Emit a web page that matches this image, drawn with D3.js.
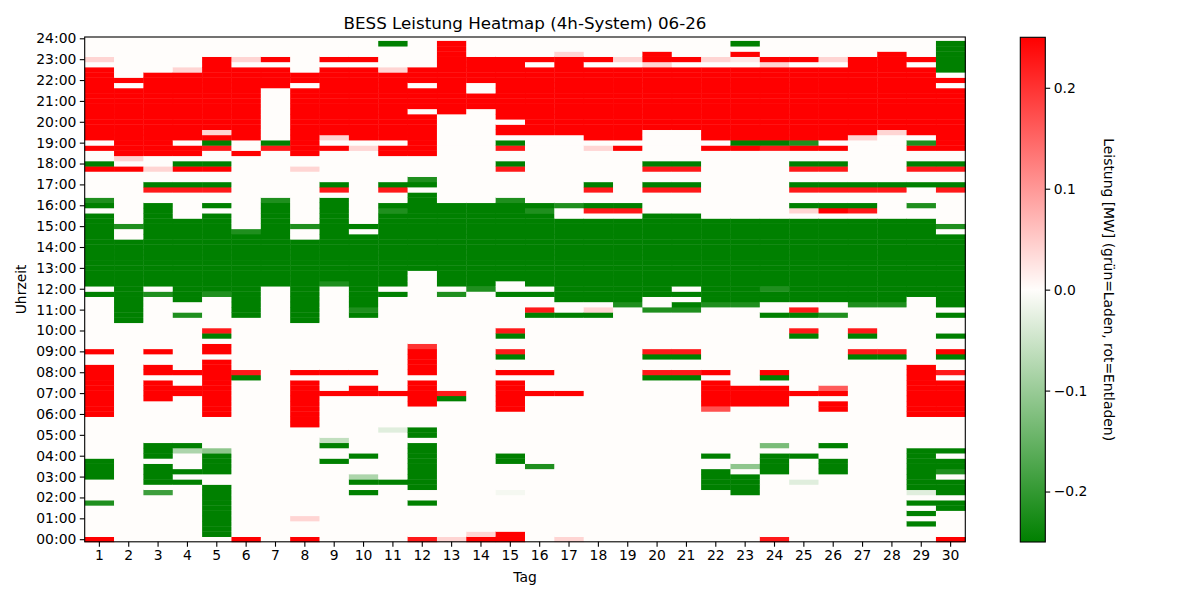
<!DOCTYPE html>
<html>
<head>
<meta charset="utf-8">
<script src="https://cdn.jsdelivr.net/npm/d3@7"></script>
<style>
  body { margin: 0; background: #fff; }
  svg text { font-family: "DejaVu Sans", sans-serif; fill: #000; }
</style>
</head>
<body>
<svg id="chart" width="1200" height="600"></svg>
<script>
// days on the x axis
const days = [1,2,3,4,5,6,7,8,9,10,11,12,13,14,15,16,17,18,19,20,21,22,23,24,25,26,27,28,29,30]

// hour tick labels (every 4 quarter hours)
const hourLabels = ['00:00','01:00','02:00','03:00','04:00','05:00','06:00','07:00','08:00','09:00','10:00','11:00',
  '12:00','13:00','14:00','15:00','16:00','17:00','18:00','19:00','20:00','21:00','22:00','23:00','24:00']

// colorbar ticks
const cbTicks = [-0.2, -0.1, 0.0, 0.1, 0.2]

// power per day as runs of quarter hours: [fromQuarter, toQuarter, MW], everything else 0
const runs = [
  [[0,0,0.25],[7,7,-0.22],[12,15,-0.25],[24,33,0.25],[36,36,0.25],[47,47,-0.25],[49,62,-0.25],[64,64,-0.25],[65,65,-0.22],[71,71,0.25],[72,72,-0.25],[75,75,0.25],[77,90,0.25],[92,92,0.04]],
  [[42,57,-0.25],[60,60,-0.22],[71,71,0.25],[73,73,0.04],[74,86,0.25],[88,88,0.25]],
  [[9,9,-0.19],[11,14,-0.25],[16,18,-0.25],[27,30,0.25],[32,33,0.25],[36,36,0.25],[47,47,-0.22],[49,64,-0.25],[67,67,0.225],[68,68,-0.25],[71,71,0.04],[74,89,0.25]],
  [[11,11,-0.25],[13,13,-0.25],[17,17,-0.08],[18,18,-0.25],[28,29,0.25],[32,32,0.25],[43,43,-0.22],[46,61,-0.25],[67,67,0.225],[68,68,-0.25],[71,71,0.25],[72,72,-0.25],[74,75,0.25],[77,89,0.25],[90,90,0.04]],
  [[1,10,-0.25],[13,16,-0.25],[17,17,-0.11],[24,34,0.25],[36,37,0.25],[39,39,-0.25],[40,40,0.225],[47,47,-0.22],[48,62,-0.25],[64,64,-0.25],[67,67,0.225],[68,68,-0.25],[71,71,0.25],[72,72,-0.25],[75,75,0.225],[76,76,-0.25],[77,77,0.25],[78,78,0.04],[79,92,0.25]],
  [[0,0,0.25],[31,31,-0.25],[32,32,0.225],[43,58,-0.25],[59,59,-0.22],[74,74,0.25],[77,90,0.25],[92,92,0.04]],
  [[49,64,-0.25],[65,65,-0.22],[75,75,0.225],[76,76,-0.25],[87,90,0.25],[92,92,0.25]],
  [[0,0,0.25],[4,4,0.04],[22,30,0.25],[32,32,0.25],[42,57,-0.25],[60,60,-0.22],[71,71,0.04],[74,86,0.25],[88,89,0.25]],
  [[15,15,-0.25],[18,18,-0.25],[19,19,-0.06],[28,28,0.25],[32,32,0.25],[49,49,-0.22],[50,65,-0.25],[67,67,0.225],[68,68,-0.25],[75,75,0.25],[77,77,0.04],[78,90,0.25],[92,92,0.25]],
  [[9,9,-0.25],[11,11,-0.25],[12,12,-0.08],[16,16,-0.25],[28,29,0.25],[32,32,0.25],[43,43,-0.25],[44,44,-0.22],[45,58,-0.25],[60,60,-0.25],[75,75,0.04],[77,90,0.25],[92,92,0.25]],
  [[11,11,-0.25],[21,21,-0.03],[28,28,0.25],[47,47,-0.25],[49,62,-0.25],[63,63,-0.22],[64,64,-0.25],[67,67,0.225],[68,68,-0.25],[74,75,0.25],[77,89,0.25],[90,90,0.04],[95,95,-0.25]],
  [[0,0,0.225],[7,7,-0.25],[10,18,-0.25],[20,21,-0.25],[26,30,0.25],[32,36,0.25],[37,37,0.2],[52,66,-0.25],[68,68,-0.25],[69,69,-0.22],[74,81,0.25],[83,86,0.25],[88,90,0.25]],
  [[0,0,0.04],[27,27,-0.25],[28,28,0.225],[47,47,-0.22],[49,64,-0.25],[82,95,0.25]],
  [[0,0,0.25],[1,1,0.04],[48,48,-0.22],[49,64,-0.25],[83,85,0.25],[88,92,0.25]],
  [[0,1,0.25],[9,9,-0.01],[15,16,-0.25],[25,30,0.25],[32,32,0.25],[35,35,-0.25],[36,36,0.225],[39,39,-0.25],[40,40,0.225],[47,47,-0.25],[50,64,-0.25],[65,65,-0.22],[71,71,0.225],[72,72,-0.25],[75,75,0.225],[76,76,-0.25],[78,79,0.25],[81,92,0.25]],
  [[14,14,-0.22],[28,28,0.25],[32,32,0.25],[43,43,-0.25],[44,44,0.225],[47,47,-0.25],[49,62,-0.25],[63,63,-0.22],[64,64,-0.25],[78,90,0.25],[92,92,0.25]],
  [[0,0,0.04],[28,28,0.25],[43,43,-0.25],[46,61,-0.25],[64,64,-0.22],[78,92,0.25],[93,93,0.04]],
  [[43,43,-0.25],[44,44,0.04],[46,61,-0.25],[63,63,0.225],[64,64,-0.25],[67,67,0.225],[68,68,-0.25],[75,75,0.04],[77,90,0.25],[92,92,0.25]],
  [[45,45,-0.22],[46,61,-0.25],[63,63,0.225],[64,64,-0.25],[75,75,0.25],[77,90,0.25],[92,92,0.04]],
  [[31,31,-0.25],[32,32,0.225],[35,35,-0.25],[36,36,0.225],[44,44,-0.22],[47,62,-0.25],[67,67,0.225],[68,68,-0.25],[71,71,0.225],[72,72,-0.25],[79,90,0.25],[91,91,0.04],[92,93,0.25]],
  [[31,31,-0.25],[32,32,0.225],[35,35,-0.25],[36,36,0.225],[44,44,-0.22],[45,45,-0.25],[47,47,-0.25],[49,62,-0.25],[67,67,0.225],[68,68,-0.25],[71,71,0.225],[72,72,-0.25],[79,90,0.25],[92,92,0.25]],
  [[10,13,-0.25],[16,16,-0.25],[25,25,0.17],[26,30,0.25],[32,32,0.25],[45,45,-0.22],[46,61,-0.25],[75,75,0.25],[77,90,0.25],[92,92,0.04]],
  [[9,12,-0.25],[14,14,-0.11],[26,29,0.25],[45,45,-0.22],[46,61,-0.25],[75,75,0.25],[76,76,-0.25],[77,90,0.25],[92,92,0.02],[93,93,0.25],[95,95,-0.25]],
  [[0,0,0.225],[13,16,-0.25],[18,18,-0.13],[26,29,0.25],[31,31,-0.25],[32,32,0.25],[43,43,-0.25],[46,47,-0.25],[48,48,-0.22],[49,61,-0.25],[75,75,0.225],[76,76,-0.25],[77,90,0.25],[91,91,0.04],[92,92,0.25]],
  [[11,11,-0.03],[16,16,-0.25],[28,28,0.25],[39,39,-0.25],[40,40,0.225],[43,43,-0.25],[44,44,0.225],[46,61,-0.25],[63,63,0.04],[64,64,-0.25],[67,67,0.225],[68,68,-0.25],[71,71,0.225],[72,72,-0.25],[75,75,0.25],[76,76,-0.22],[77,90,0.25],[92,92,0.25]],
  [[13,15,-0.25],[18,18,-0.25],[25,26,0.25],[28,28,0.25],[29,29,0.16],[43,43,-0.22],[46,61,-0.25],[63,63,0.25],[64,64,-0.25],[67,67,0.225],[68,68,-0.25],[71,71,0.225],[72,72,-0.25],[75,75,0.25],[77,90,0.25],[92,92,0.04]],
  [[35,35,-0.25],[36,36,0.225],[39,39,-0.25],[40,40,0.225],[45,45,-0.22],[46,61,-0.25],[63,63,0.225],[64,64,-0.25],[67,67,0.225],[68,68,-0.25],[77,77,0.04],[78,92,0.25]],
  [[35,35,-0.25],[36,36,0.225],[45,45,-0.22],[46,61,-0.25],[67,67,0.225],[68,68,-0.25],[78,78,0.04],[79,93,0.25]],
  [[3,3,-0.25],[5,5,-0.25],[7,7,-0.25],[9,9,-0.03],[10,17,-0.25],[24,33,0.25],[47,61,-0.25],[64,64,-0.22],[68,68,-0.25],[71,71,0.225],[72,72,-0.25],[75,75,0.25],[76,76,-0.22],[78,90,0.25],[92,92,0.25]],
  [[0,0,0.25],[6,7,-0.25],[9,11,-0.25],[13,13,-0.22],[14,15,-0.25],[17,17,-0.25],[24,30,0.25],[32,32,0.225],[35,35,-0.25],[36,36,0.25],[39,39,-0.25],[43,43,-0.25],[45,58,-0.25],[60,60,-0.22],[67,67,0.225],[68,68,-0.25],[71,71,0.225],[72,72,-0.25],[75,86,0.25],[88,88,0.25],[90,95,-0.25]]
]

const QUARTERS = 96

// expand runs into cells
const cells = []
days.forEach((day, i) => {
  for (let q = 0; q < QUARTERS; q++) {
    const run = runs[i].find(r => q >= r[0] && q <= r[1])
    cells.push({ day: day, q: q, v: run ? run[2] : 0 })
  }
})

const svg = d3.select('#chart')
const plotLeft = 84.7, plotRight = 965.3, plotTop = 37, plotBottom = 541.8

const x = d3.scaleBand().domain(days).range([plotLeft, plotRight])
const y = d3.scaleLinear().domain([-0.5, 96.25]).range([plotBottom, plotTop])
const color = d3.scaleLinear()
  .domain([-0.25, 0, 0.25])
  .range(['#008000', '#fffdfb', '#ff0000'])
  .clamp(true)

// plot background (zero colour)
svg.append('rect')
  .attr('x', plotLeft).attr('y', plotTop)
  .attr('width', plotRight - plotLeft).attr('height', plotBottom - plotTop)
  .attr('fill', color(0))

svg.append('g')
  .selectAll('rect')
  .data(cells)
  .enter().append('rect')
  .attr('x', d => x(d.day))
  .attr('y', d => y(d.q + 0.5))
  .attr('width', x.bandwidth() + 0.4)
  .attr('height', d => y(d.q - 0.5) - y(d.q + 0.5) + 0.4)
  .attr('fill', d => color(d.v))

// axes
const fontSize = '13.9px'
const xAxis = svg.append('g')
  .attr('transform', `translate(0,${plotBottom})`)
  .call(d3.axisBottom(x).tickSize(4.9).tickPadding(3.5))
const yAxis = svg.append('g')
  .attr('transform', `translate(${plotLeft},0)`)
  .call(d3.axisLeft(y)
    .tickValues(hourLabels.map((l, i) => i * 4))
    .tickFormat((d, i) => hourLabels[i])
    .tickSize(4.9).tickPadding(3.5))
;[xAxis, yAxis].forEach(a => {
  a.select('.domain').remove()
  a.selectAll('text').style('font-size', fontSize).style('font-family', '"DejaVu Sans", sans-serif')
  a.selectAll('line').attr('stroke', '#000').attr('stroke-width', 1.1)
})

// frame
svg.append('rect')
  .attr('x', plotLeft).attr('y', plotTop)
  .attr('width', plotRight - plotLeft).attr('height', plotBottom - plotTop)
  .attr('fill', 'none').attr('stroke', '#000').attr('stroke-width', 1.1)

// title + labels
svg.append('text')
  .attr('x', (plotLeft + plotRight) / 2).attr('y', 29)
  .attr('text-anchor', 'middle').style('font-size', '16.7px')
  .text('BESS Leistung Heatmap (4h-System) 06-26')
svg.append('text')
  .attr('x', (plotLeft + plotRight) / 2).attr('y', 582)
  .attr('text-anchor', 'middle').style('font-size', fontSize)
  .text('Tag')
svg.append('text')
  .attr('transform', `translate(26,${(plotTop + plotBottom) / 2}) rotate(-90)`)
  .attr('text-anchor', 'middle').style('font-size', fontSize)
  .text('Uhrzeit')

// colorbar
const cbLeft = 1020.3, cbWidth = 25
const cbScale = d3.scaleLinear().domain([-0.25, 0.25]).range([542, 37.3])
const grad = svg.append('defs').append('linearGradient')
  .attr('id', 'cbgrad').attr('x1', 0).attr('y1', 1).attr('x2', 0).attr('y2', 0)
color.domain().forEach(v => {
  grad.append('stop')
    .attr('offset', (v + 0.25) / 0.5)
    .attr('stop-color', color(v))
})
svg.append('rect')
  .attr('x', cbLeft).attr('y', cbScale(0.25))
  .attr('width', cbWidth).attr('height', cbScale(-0.25) - cbScale(0.25))
  .attr('fill', 'url(#cbgrad)')
  .attr('stroke', '#000').attr('stroke-width', 1.1)
const cbAxis = svg.append('g')
  .attr('transform', `translate(${cbLeft + cbWidth},0)`)
  .call(d3.axisRight(cbScale).tickValues(cbTicks).tickFormat(d3.format('.1f')).tickSize(4.9).tickPadding(3.5))
cbAxis.select('.domain').remove()
cbAxis.selectAll('text').style('font-size', fontSize).style('font-family', '"DejaVu Sans", sans-serif')
cbAxis.selectAll('line').attr('stroke', '#000').attr('stroke-width', 1.1)

svg.append('text')
  .attr('transform', `translate(1104,${(37.3 + 542) / 2}) rotate(90)`)
  .attr('text-anchor', 'middle').style('font-size', fontSize)
  .text('Leistung [MW] (grün=Laden, rot=Entladen)')
</script>
</body>
</html>
